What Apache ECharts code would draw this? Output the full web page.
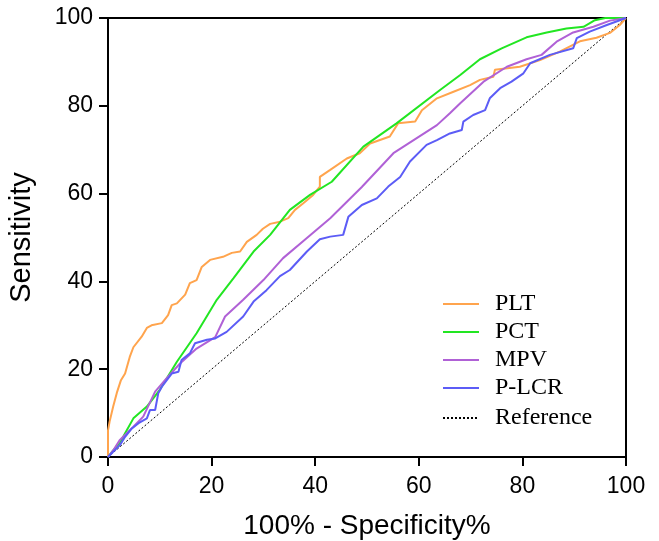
<!DOCTYPE html>
<html>
<head>
<meta charset="utf-8">
<script src="https://cdn.jsdelivr.net/npm/echarts@6/dist/echarts.min.js"></script>
<style>html,body{margin:0;padding:0;background:#fff;overflow:hidden}#c{width:659px;height:541px}</style>
</head>
<body>
<div id="c"></div>
<script>
var xTicks = [0, 20, 40, 60, 80, 100];
var yTicks = [0, 20, 40, 60, 80, 100];
var seriesNames = ['PLT', 'PCT', 'MPV', 'P-LCR', 'Reference'];

var pltX = [0,0,0.3,1,1.7,2.5,3.3,4.2,4.9,6.5,7.5,8.4,10.4,11.6,12.3,13.3,14.9,15.8,17.1,18.1,19.7,22.2,23.9,25.5,26.8,28.7,29.9,31.3,33.2,34.8,36.1,37.7,39.6,40.9,40.9,42.9,46.1,48.6,50.6,54.4,56,59.3,60.6,63.5,66.7,69.9,71.8,74.4,74.7,79.5,83.4,87.3,91.1,94.3,96.9,98.8,100];
var pltY = [0,6,8,11.5,14.6,17.5,19,22.8,25,27.4,29.4,30,30.5,32.3,34.6,35,37,39.6,40.3,43.3,44.9,45.6,46.5,46.8,49,50.6,52,53.1,53.6,54.4,56.3,57.8,59.7,61.6,63.8,65.4,68,69.2,71.4,73,76,76.4,79,81.7,83.2,84.7,85.9,86.6,88.2,88.9,90.4,92.4,94.7,95.5,96.6,98.4,100];

var pctX = [0,1,2.3,3.3,4.9,7.5,10,13.3,17.1,21,24.2,28.1,31.3,35.1,39,43.2,49.3,55.7,64.1,68,71.8,76,80.8,84.7,88.5,91.8,94,96,100];
var pctY = [0,1.5,3.2,5.4,8.8,11.5,15.3,21.7,28.2,35.8,40.7,46.8,50.6,56.3,59.7,62.7,70.7,76,83.6,87,90.6,93.1,95.6,96.7,97.6,98,99.5,100,100];

var mpvX = [0,1,2.3,4.9,6.8,9.1,11.3,13.9,17.1,20.7,22.6,26.1,30,33.8,38,42.9,49,55.1,63.5,66,68,72.5,77,80.8,83.7,86.6,89.8,93.7,96.9,100];
var mpvY = [0,1.5,3.9,6.9,9.2,14.9,17.9,21.3,24.7,27.3,32,35.8,40.3,45.3,49.5,54.4,61.5,69.2,75.6,78.3,80.6,85.5,88.9,90.6,91.6,94.6,96.7,98,99.4,100];

var plcrX = [0,1,2.3,3.3,4.6,5.9,7.5,8.1,9.1,9.7,10.4,12.3,13.6,14.2,15.8,16.8,19.1,20.7,22.9,26.1,28.1,30.6,33.2,35.1,38.4,40.9,42.9,45.4,46.4,49,51.9,54.1,56.4,58.3,61.5,63.5,66,68.3,68.6,70.5,72.8,73.7,75.7,77.9,80.2,81.5,85.3,89.8,90.5,93,96.3,100];
var plcrY = [0,1.2,2.7,4.6,6.5,7.7,8.8,10.7,10.7,14.5,16,19,19.4,22.1,23.6,25.9,26.7,27,28.5,32,35.4,38,41.2,42.6,46.8,49.6,50.2,50.6,54.7,57.4,58.9,61.6,63.8,67.3,71.1,72.2,73.7,74.5,76.4,77.9,79,81.7,84,85.5,87.4,89.7,91.6,93.1,95.4,96.9,98.4,100];

var refX = [0, 100];
var refY = [0, 100];

var colors = ['#FFA44D', '#22E622', '#B061D6', '#5C5CF6', '#000000'];

function pairs(xs, ys) { return xs.map(function (x, i) { return [x, ys[i]]; }); }

var chart = echarts.init(document.getElementById('c'), null, { width: 659, height: 541, renderer: 'canvas' });
var sans = 'Liberation Sans, Arial, sans-serif';
var serif = 'Liberation Serif, Times New Roman, serif';

function lineSeries(name, xs, ys, color, dotted) {
  return {
    name: name, type: 'line', data: pairs(xs, ys), symbol: 'none', showSymbol: false, smooth: false,
    lineStyle: dotted ? { color: color, width: 1, type: [2, 2] } : { color: color, width: 2 },
    itemStyle: { color: color }, animation: false, z: dotted ? 1 : 3
  };
}

var legendCommon = {
  orient: 'vertical', left: 437, itemWidth: 36, itemHeight: 14,
  itemStyle: { opacity: 0 },
  textStyle: { fontFamily: serif, fontSize: 24, color: '#000', padding: [0, 0, 0, 11], lineHeight: 23 }
};

chart.setOption({
  animation: false,
  backgroundColor: '#fff',
  grid: { left: 108, right: 33, top: 18, bottom: 84, containLabel: false, outerBoundsMode: 'none', show: true, borderColor: '#000', borderWidth: 2, backgroundColor: 'transparent' },
  xAxis: {
    type: 'value', min: xTicks[0], max: xTicks[xTicks.length - 1], interval: 20,
    name: '100% - Specificity%', nameLocation: 'middle', nameGap: 55,
    nameTextStyle: { fontFamily: sans, fontSize: 28, color: '#000' },
    axisLine: { show: true, lineStyle: { color: '#000', width: 2 } },
    axisTick: { show: true, length: 9, lineStyle: { color: '#000', width: 2 } },
    axisLabel: { fontFamily: sans, fontSize: 23, color: '#000', margin: 18 },
    splitLine: { show: false }
  },
  yAxis: {
    type: 'value', min: yTicks[0], max: yTicks[yTicks.length - 1], interval: 20,
    name: 'Sensitivity', nameLocation: 'middle', nameGap: 72, nameRotate: 90,
    nameTextStyle: { fontFamily: sans, fontSize: 29, color: '#000' },
    axisLine: { show: true, lineStyle: { color: '#000', width: 2 } },
    axisTick: { show: true, length: 9, lineStyle: { color: '#000', width: 2 } },
    axisLabel: { fontFamily: sans, fontSize: 23, color: '#000', margin: 15 },
    splitLine: { show: false }
  },
  legend: [
    Object.assign({}, legendCommon, { data: seriesNames.slice(0, 4), top: 287, itemGap: 4 }),
    Object.assign({}, legendCommon, { data: [seriesNames[4]], top: 401 })
  ],
  series: [
    lineSeries(seriesNames[4], refX, refY, colors[4], true),
    lineSeries(seriesNames[0], pltX, pltY, colors[0]),
    lineSeries(seriesNames[1], pctX, pctY, colors[1]),
    lineSeries(seriesNames[2], mpvX, mpvY, colors[2]),
    lineSeries(seriesNames[3], plcrX, plcrY, colors[3])
  ]
});
</script>
</body>
</html>
